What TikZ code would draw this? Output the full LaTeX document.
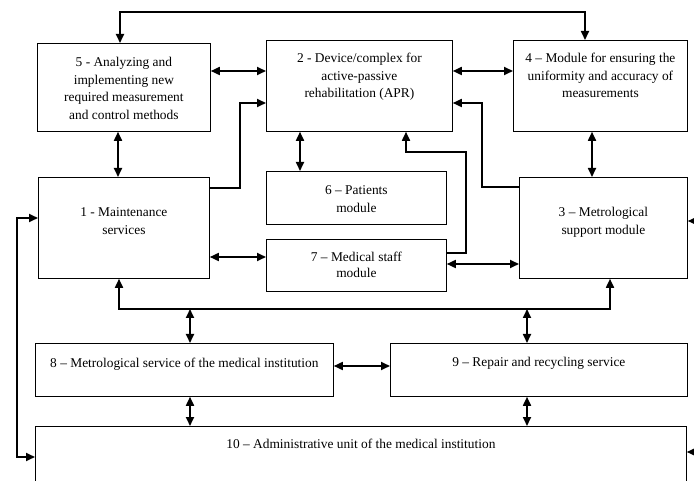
\documentclass[tikz,border=0pt]{standalone}
\usepackage{fontspec}
\setmainfont{Liberation Serif}
\usepackage{tikz}
\usetikzlibrary{arrows.meta, positioning, calc}

\begin{document}
\begin{tikzpicture}[x=1pt, y=-1pt, font=\fontsize{13.4}{17.5}\selectfont,
    >={Triangle[length=9pt, width=8pt]},
    box/.style={draw, line width=0.8pt, align=center, anchor=north west, inner xsep=2pt, inner ysep=0pt},
    lnk/.style={line width=1.7pt}]
    \useasboundingbox (0,0) rectangle (694,481);
    % blocks
    \node[box, minimum width=173pt, text height=76pt, text depth=12pt] (meth) at (37,43) {5 - Analyzing and\\implementing new\\required measurement\\and control methods};
    \node[box, minimum width=186pt, text height=57.5pt, text depth=33.5pt] (apr) at (266,40) {2 - Device/complex for\\active-passive\\rehabilitation (APR)};
    \node[box, minimum width=174pt, text height=57.5pt, text depth=33.5pt] (unif) at (513,40) {4 -- Module for ensuring the\\uniformity and accuracy of\\measurements};
    \node[box, minimum width=171pt, text height=57pt, text depth=44pt] (maint) at (38,177) {1 - Maintenance\\services};
    \node[box, minimum width=168pt, text height=57pt, text depth=44pt] (metr) at (519,177) {3 -- Metrological\\support module};
    \node[box, minimum width=180pt, text height=41pt, text depth=12pt] (pat) at (266,171) {6 -- Patients\\module};
    \node[box, minimum width=180pt, text height=38pt, text depth=14pt] (staff) at (266,239) {7 -- Medical staff\\[-2pt]module};
    \node[box, minimum width=298pt, text height=24.5pt, text depth=28.5pt] (mserv) at (35,343) {8 -- Metrological service of the medical institution};
    \node[box, minimum width=297pt, text height=23.5pt, text depth=29.5pt] (repair) at (390,343) {9 -- Repair and recycling service};
    \node[box, minimum width=651pt, text height=22.5pt, text depth=47.5pt] (admin) at (35,426) {10 -- Administrative unit of the medical institution};
    % free ends
    \coordinate (bus8) at (190,309);
    \coordinate (bus9) at (527,309);
    \coordinate (lft) at (17,457);
    \coordinate (rgt3) at (700,221);
    \coordinate (rgt10) at (700,452);
    % links
    \draw[lnk, <->] (meth.north -| 120,0) -- (120,12) -| (unif.north -| 585,0);
    \draw[lnk, <->] (meth.east |- 0,71) -- (apr.west |- 0,71);
    \draw[lnk, <->] (apr.east |- 0,71) -- (unif.west |- 0,71);
    \draw[lnk, <->] (meth.south -| 118,0) -- (maint.north -| 118,0);
    \draw[lnk, <->] (apr.south -| 300,0) -- (pat.north -| 300,0);
    \draw[lnk, <->] (unif.south -| 592,0) -- (metr.north -| 592,0);
    \draw[lnk, ->] (maint.east |- 0,188) -| (240,103) -- (apr.west |- 0,103);
    \draw[lnk, ->] (metr.west |- 0,187) -| (482,103) -- (apr.east |- 0,103);
    \draw[lnk, ->] (staff.east |- 0,253) -| (466,152) -| (apr.south -| 406,0);
    \draw[lnk, <->] (maint.east |- 0,257) -- (staff.west |- 0,257);
    \draw[lnk, <->] (staff.east |- 0,264) -- (metr.west |- 0,264);
    \draw[lnk, <->] (maint.south -| 119,0) -- (119,309) -| (metr.south -| 610,0);
    \draw[lnk, <->] (bus8) -- (mserv.north -| bus8);
    \draw[lnk, <->] (bus9) -- (repair.north -| bus9);
    \draw[lnk, <->] (mserv.east |- 0,366) -- (repair.west |- 0,366);
    \draw[lnk, <->] (mserv.south -| bus8) -- (admin.north -| bus8);
    \draw[lnk, <->] (repair.south -| bus9) -- (admin.north -| bus9);
    \draw[lnk, <->] (maint.west |- 0,218) -| (lft) -- (admin.west |- lft);
    \draw[lnk, <-] (metr.east |- rgt3) -- (rgt3);
    \draw[lnk, <-] (admin.east |- rgt10) -- (rgt10);
\end{tikzpicture}
\end{document}
